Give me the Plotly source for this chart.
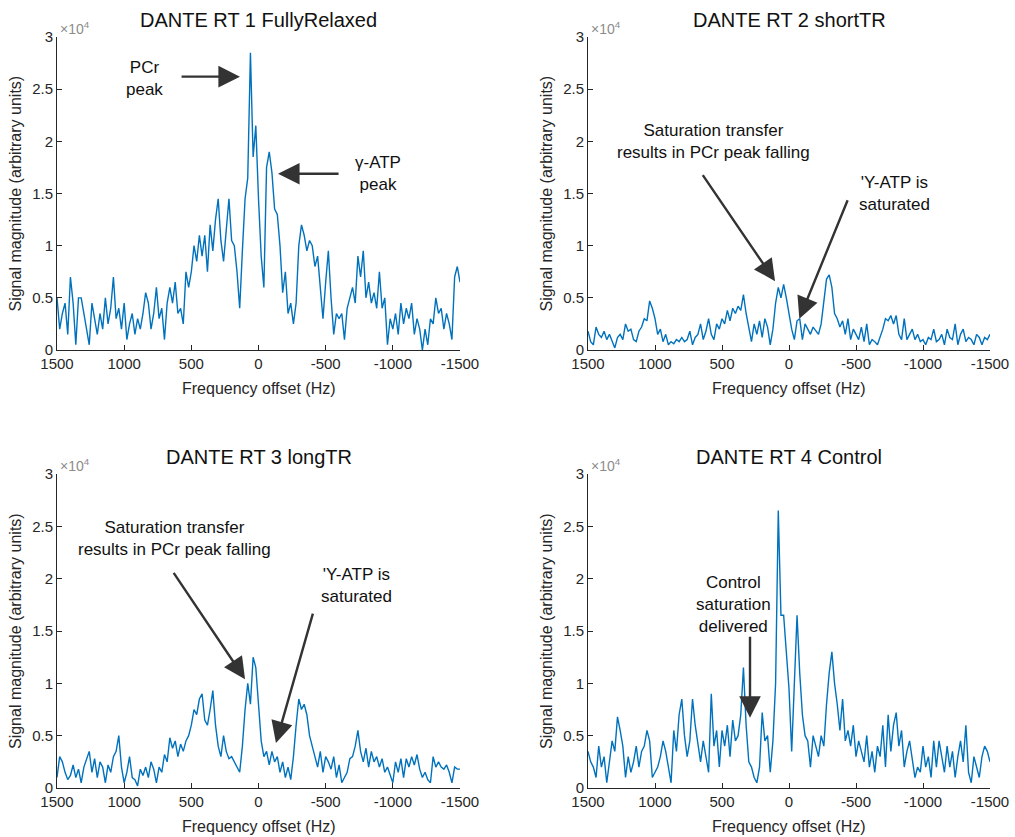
import plotly.graph_objects as go

# Frequency grid (Hz), 1500 -> -1500 in 20 Hz steps
freq = list(range(1500, -1501, -20))

titles = ["DANTE RT 1 FullyRelaxed", "DANTE RT 2 shortTR", "DANTE RT 3 longTR", "DANTE RT 4 Control"]
x_ticks = [1500, 1000, 500, 0, -500, -1000, -1500]
y_ticks = [0, 0.5, 1, 1.5, 2, 2.5, 3]
y_tick_labels = ["0", "0.5", "1", "1.5", "2", "2.5", "3"]

# Signal magnitude in units of 1e4
rt1_fully_relaxed = [
    0.5, 0.2, 0.35, 0.45, 0.15, 0.7, 0.45, 0.05, 0.5, 0.5,
    0.35, 0.2, 0.05, 0.45, 0.3, 0.15, 0.35, 0.2, 0.5, 0.25,
    0.4, 0.7, 0.3, 0.4, 0.2, 0.45, 0.1, 0.25, 0.35, 0.15,
    0.3, 0.2, 0.35, 0.55, 0.45, 0.2, 0.35, 0.6, 0.3, 0.4,
    0.1, 0.45, 0.6, 0.45, 0.65, 0.35, 0.4, 0.25, 0.75, 0.6,
    0.75, 1.0, 0.85, 1.1, 0.9, 1.1, 0.75, 1.2, 0.95, 1.25,
    1.45, 1.05, 0.85, 1.15, 1.45, 1.05, 1.0, 0.75, 0.4, 0.95,
    1.45, 1.65, 2.85, 1.85, 2.15, 1.45, 0.9, 0.6, 1.75, 1.9,
    1.7, 1.35, 1.3, 1.0, 0.55, 0.75, 0.35, 0.45, 0.25, 0.45,
    1.0, 1.2, 1.1, 0.95, 1.05, 1.0, 0.8, 0.9, 0.6, 0.3,
    0.65, 0.95, 0.5, 0.15, 0.35, 0.3, 0.35, 0.1, 0.4, 0.5,
    0.6, 0.45, 0.9, 0.7, 0.95, 0.5, 0.65, 0.45, 0.55, 0.4,
    0.75, 0.4, 0.5, 0.05, 0.3, 0.2, 0.35, 0.15, 0.45, 0.25,
    0.4, 0.3, 0.45, 0.15, 0.3, 0.2, 0.0, 0.2, 0.05, 0.3,
    0.25, 0.5, 0.35, 0.4, 0.2, 0.35, 0.25, 0.1, 0.7, 0.8,
    0.65,
]

rt2_short_tr = [
    0.18, 0.08, 0.05, 0.22, 0.15, 0.12, 0.18, 0.1, 0.15, 0.08,
    0.02, 0.12, 0.15, 0.1, 0.25, 0.18, 0.2, 0.1, 0.08, 0.18,
    0.22, 0.3, 0.28, 0.47, 0.4, 0.3, 0.15, 0.2, 0.08, 0.15,
    0.05, 0.08, 0.06, 0.1, 0.08, 0.12, 0.08, 0.1, 0.18, 0.05,
    0.12, 0.15, 0.25, 0.1, 0.18, 0.3, 0.15, 0.1, 0.25, 0.2,
    0.3, 0.25, 0.38, 0.28, 0.4, 0.35, 0.42, 0.38, 0.53, 0.35,
    0.2, 0.08, 0.25, 0.15, 0.28, 0.12, 0.3, 0.22, 0.05, 0.2,
    0.45, 0.6, 0.5, 0.63, 0.5, 0.35, 0.2, 0.1, 0.28, 0.3,
    0.1, 0.25, 0.2, 0.15, 0.22, 0.18, 0.15, 0.25, 0.5, 0.68,
    0.72, 0.6, 0.35, 0.3, 0.22, 0.28, 0.15, 0.3, 0.1, 0.2,
    0.15, 0.1, 0.22, 0.08, 0.25, 0.05, 0.1, 0.08, 0.05, 0.12,
    0.2, 0.3, 0.28, 0.33, 0.25, 0.33, 0.15, 0.1, 0.3, 0.1,
    0.15, 0.2, 0.1, 0.15, 0.08, 0.1, 0.05, 0.12, 0.1, 0.2,
    0.08, 0.1, 0.15, 0.05, 0.2, 0.12, 0.1, 0.25, 0.05, 0.15,
    0.2, 0.08, 0.12, 0.1, 0.05, 0.15, 0.12, 0.05, 0.12, 0.1,
    0.15,
]

rt3_long_tr = [
    0.1, 0.3, 0.25, 0.15, 0.08, 0.12, 0.22, 0.1, 0.18, 0.05,
    0.2, 0.28, 0.35, 0.15, 0.28, 0.1, 0.25, 0.2, 0.05, 0.22,
    0.15, 0.3, 0.35, 0.5, 0.2, 0.05, 0.15, 0.3, 0.1, 0.08,
    0.02, 0.18, 0.12, 0.2, 0.1, 0.25, 0.18, 0.05, 0.2, 0.15,
    0.32, 0.25, 0.48, 0.38, 0.45, 0.3, 0.42, 0.35, 0.45, 0.5,
    0.6, 0.75, 0.7, 0.85, 0.9, 0.65, 0.6, 0.75, 0.93, 0.6,
    0.4, 0.3, 0.5, 0.35, 0.28, 0.3, 0.25, 0.2, 0.15, 0.4,
    0.75, 1.0, 0.8, 1.25, 1.15, 0.8, 0.45, 0.3, 0.35, 0.22,
    0.35, 0.25, 0.3, 0.15, 0.25, 0.1, 0.2, 0.08, 0.3, 0.6,
    0.85, 0.75, 0.8, 0.7, 0.5, 0.4, 0.3, 0.2, 0.35, 0.15,
    0.3, 0.25, 0.18, 0.3, 0.1, 0.22, 0.05, 0.1, 0.15, 0.28,
    0.3, 0.4, 0.55, 0.35, 0.25, 0.38, 0.2, 0.35, 0.25, 0.3,
    0.2, 0.28, 0.15, 0.2, 0.12, 0.05, 0.25, 0.15, 0.28, 0.1,
    0.28, 0.2, 0.3, 0.22, 0.32, 0.18, 0.1, 0.15, 0.08, 0.05,
    0.3, 0.2, 0.25, 0.2, 0.18, 0.22, 0.15, 0.05, 0.2, 0.18,
    0.18,
]

rt4_control = [
    0.35, 0.25, 0.2, 0.1, 0.4, 0.2, 0.3, 0.05, 0.25, 0.45,
    0.35, 0.68, 0.55, 0.4, 0.1, 0.3, 0.15, 0.25, 0.4, 0.2,
    0.35, 0.4, 0.55, 0.45, 0.1, 0.15, 0.2, 0.3, 0.45, 0.35,
    0.2, 0.05, 0.55, 0.35, 0.7, 0.85, 0.5, 0.3, 0.45, 0.85,
    0.6, 0.4, 0.25, 0.45, 0.3, 0.15, 0.9, 0.4, 0.55, 0.2,
    0.55, 0.4, 0.6, 0.3, 0.65, 0.45, 0.5, 0.7, 1.15, 0.6,
    0.25, 0.2, 0.1, 0.05, 0.2, 0.72, 0.45, 0.5, 0.15, 0.45,
    1.0, 2.65, 1.65, 1.65, 1.3, 0.95, 0.35, 1.0, 1.65, 1.1,
    0.7, 0.5, 0.45, 0.2, 0.5, 0.4, 0.3, 0.5, 0.4, 0.8,
    1.1, 1.3, 1.0, 0.8, 0.55, 0.85, 0.45, 0.55, 0.4, 0.6,
    0.3, 0.45, 0.35, 0.25, 0.5, 0.2, 0.35, 0.15, 0.4, 0.3,
    0.6, 0.2, 0.7, 0.35, 0.6, 0.72, 0.4, 0.55, 0.2, 0.35,
    0.45, 0.25, 0.1, 0.2, 0.15, 0.4, 0.2, 0.3, 0.1, 0.45,
    0.2, 0.45, 0.3, 0.15, 0.4, 0.2, 0.35, 0.1, 0.3, 0.45,
    0.25, 0.6, 0.15, 0.05, 0.3, 0.2, 0.1, 0.3, 0.4, 0.35,
    0.25,
]

series = [rt1_fully_relaxed, rt2_short_tr, rt3_long_tr, rt4_control]

W, H = 1015, 837
# axes boxes in pixels: (left, right, top, bottom)
boxes = [(57, 460, 37, 350), (588, 990, 37, 350), (57, 460, 474, 788), (588, 990, 474, 788)]

fig = go.Figure()
AX = "#262626"
LINE = "#0072BD"
FONT = "Liberation Sans, Arial, Helvetica, sans-serif"

for i, (ys, (l, r, t, b)) in enumerate(zip(series, boxes)):
    n = i + 1
    xa = "x" if n == 1 else f"x{n}"
    ya = "y" if n == 1 else f"y{n}"
    fig.add_trace(go.Scatter(x=freq, y=ys, mode="lines", xaxis=xa, yaxis=ya,
                             line=dict(color=LINE, width=1.4), showlegend=False,
                             hoverinfo="skip"))
    xkey = "xaxis" if n == 1 else f"xaxis{n}"
    ykey = "yaxis" if n == 1 else f"yaxis{n}"
    fig.layout[xkey] = dict(
        domain=[l / W, r / W], anchor=ya, range=[1500, -1500], automargin=False,
        tickvals=x_ticks, ticktext=[str(v) for v in x_ticks],
        ticks="inside", ticklen=5, tickwidth=1, tickcolor=AX,
        showline=True, linecolor=AX, linewidth=1, showgrid=False, zeroline=False,
        tickfont=dict(family=FONT, size=15, color=AX),
    )
    fig.layout[ykey] = dict(
        domain=[1 - b / H, 1 - t / H], anchor=xa, range=[0, 3], automargin=False,
        tickvals=y_ticks, ticktext=y_tick_labels,
        ticks="inside", ticklen=5, tickwidth=1, tickcolor=AX,
        showline=True, linecolor=AX, linewidth=1, showgrid=False, zeroline=False,
        tickfont=dict(family=FONT, size=15, color=AX),
    )
    # subplot title
    fig.add_annotation(xref="paper", yref="paper", x=(l + r) / 2 / W, y=1 - (t - 17) / H,
                       text=titles[i], showarrow=False, xanchor="center", yanchor="middle",
                       font=dict(family=FONT, size=20, color="#111111"))
    # x axis title
    fig.add_annotation(xref="paper", yref="paper", x=(l + r) / 2 / W, y=1 - (b + 38) / H,
                       text="Frequency offset (Hz)", showarrow=False, xanchor="center", yanchor="middle",
                       font=dict(family=FONT, size=16, color=AX))
    # y axis title
    fig.add_annotation(xref="paper", yref="paper", x=(l - 42) / W, y=1 - ((t + b) / 2) / H,
                       text="Signal magnitude (arbitrary units)", showarrow=False, textangle=-90,
                       xanchor="center", yanchor="middle",
                       font=dict(family=FONT, size=16, color=AX))
    # x10^4 multiplier
    fig.add_annotation(xref="paper", yref="paper", x=(l + 1) / W, y=1 - (t - 9) / H,
                       text="×10<sup>4</sup>", showarrow=False, xanchor="left", yanchor="middle",
                       font=dict(family=FONT, size=14, color="#8c8c8c"))

TXT = dict(family=FONT, size=17, color="#111111")
ARR = "#333333"


def arrow(n, x0, y0, x1, y1):
    xa = "x" if n == 1 else f"x{n}"
    ya = "y" if n == 1 else f"y{n}"
    fig.add_annotation(xref=xa, yref=ya, axref=xa, ayref=ya, x=x1, y=y1, ax=x0, ay=y0,
                       text="", showarrow=True, arrowhead=2, arrowsize=1.8, arrowwidth=2.4,
                       arrowcolor=ARR, standoff=0, startstandoff=0)


def label(n, x, y, text):
    xa = "x" if n == 1 else f"x{n}"
    ya = "y" if n == 1 else f"y{n}"
    fig.add_annotation(xref=xa, yref=ya, x=x, y=y, text=text, showarrow=False,
                       xanchor="center", yanchor="middle", font=TXT)


# Panel 1
arrow(1, 584, 2.62, 138, 2.62)
label(1, 852, 2.6, "PCr<br>peak")
arrow(1, -607, 1.69, -145, 1.69)
label(1, -890, 1.69, "γ-ATP<br>peak")
# Panel 2
label(2, 565, 2.0, "Saturation transfer<br>results in PCr peak falling")
arrow(2, 651, 1.69, 104, 0.66)
label(2, -791, 1.5, "'Y-ATP is<br>saturated")
arrow(2, -442, 1.45, -77, 0.3)
# Panel 3
label(3, 622, 2.38, "Saturation transfer<br>results in PCr peak falling")
arrow(3, 639, 2.07, 100, 1.04)
label(3, -731, 1.93, "'Y-ATP is<br>saturated")
arrow(3, -408, 1.68, -130, 0.43)
# Panel 4
label(4, 415, 1.75, "Control<br>saturation<br>delivered")
arrow(4, 291, 1.46, 291, 0.67)

fig.update_layout(width=W, height=H, margin=dict(l=0, r=0, t=0, b=0),
                  paper_bgcolor="white", plot_bgcolor="white",
                  font=dict(family=FONT))

# remove the default page margin so the figure sits at the window's top-left corner
fig.write_html("out.html", config={"displayModeBar": False},
               post_script="document.body.style.margin='0';document.body.style.overflow='hidden';")
